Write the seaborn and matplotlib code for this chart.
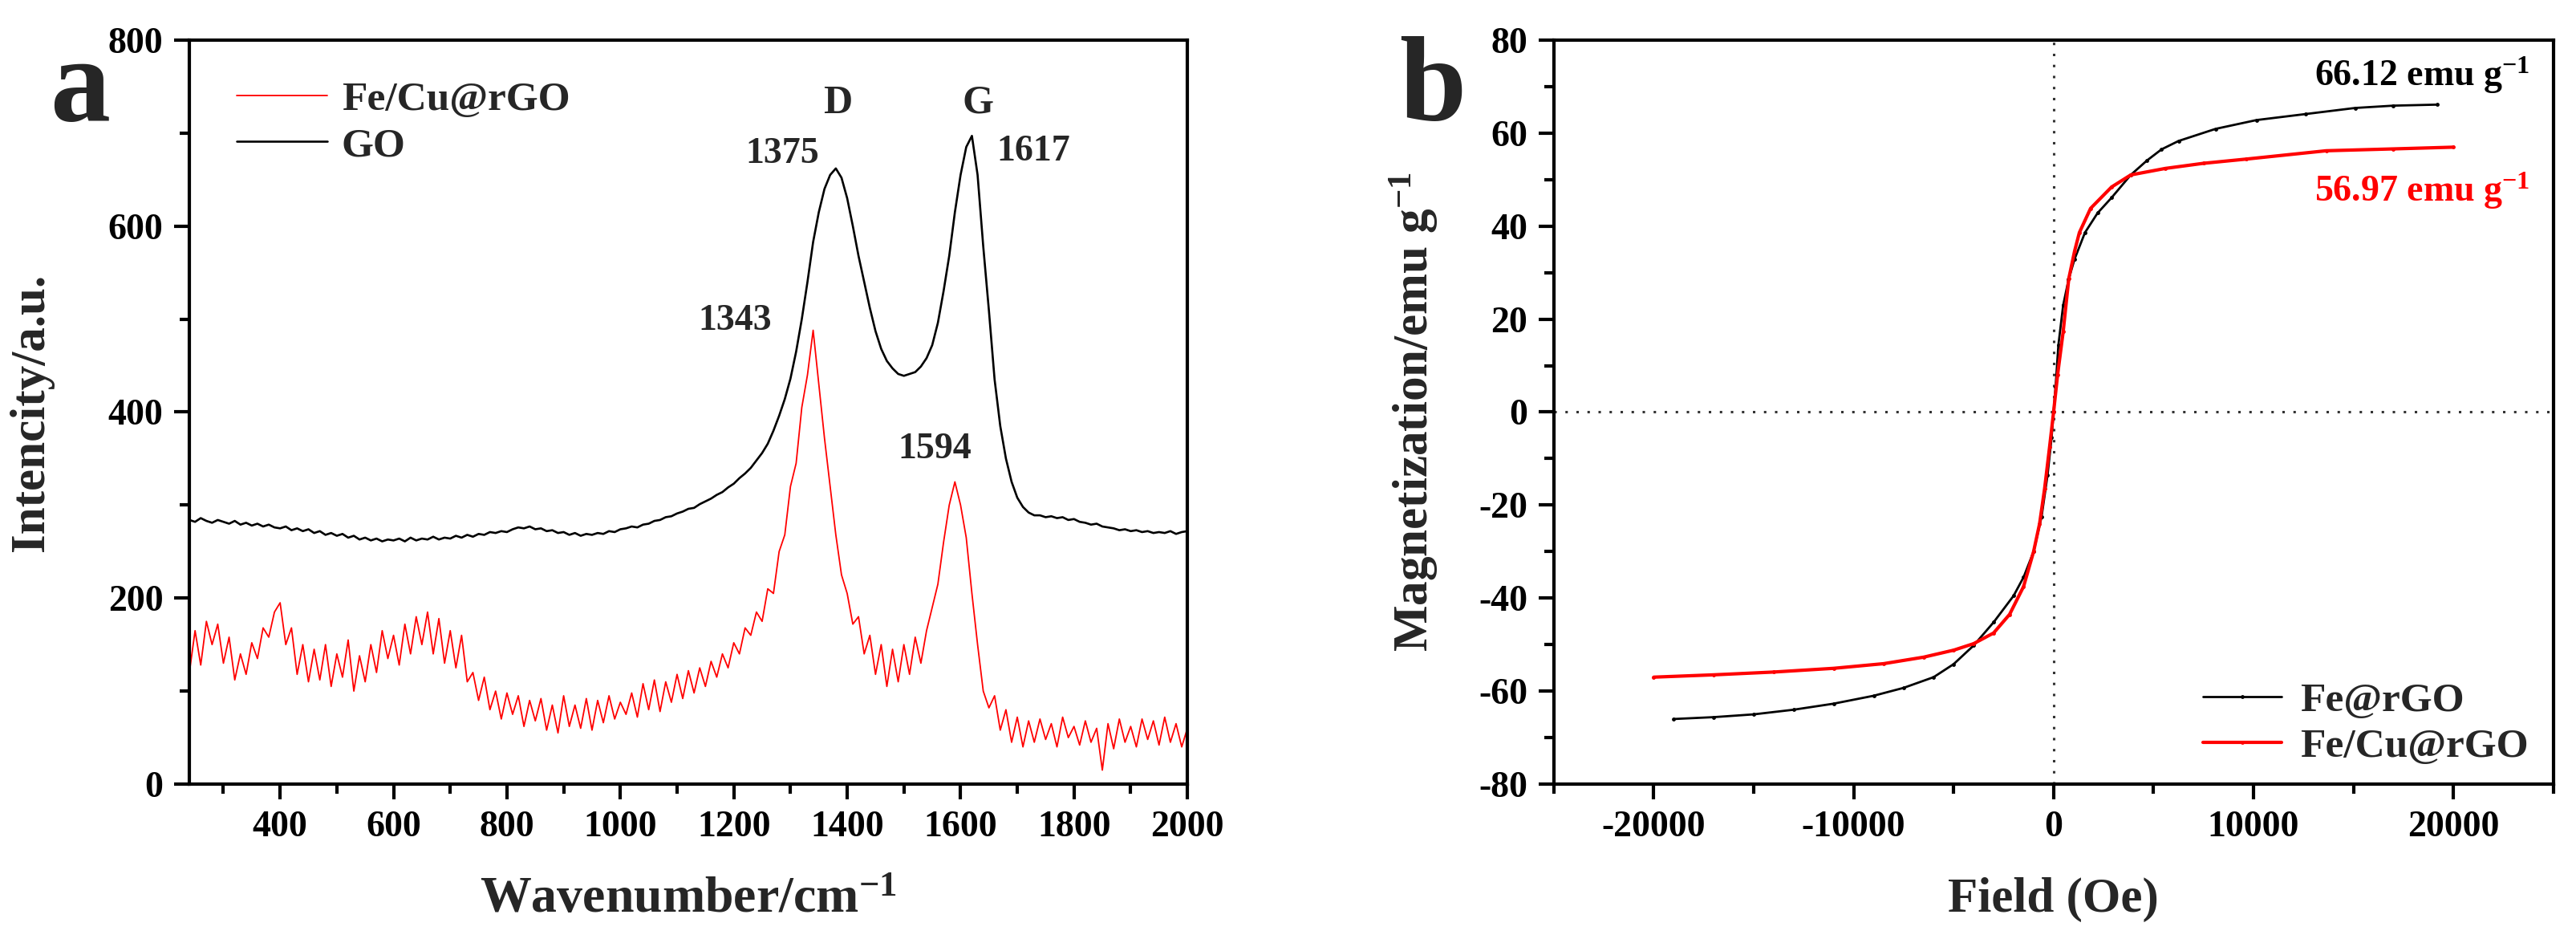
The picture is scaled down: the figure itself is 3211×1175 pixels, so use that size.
import numpy as np
import matplotlib
matplotlib.use('Agg')
import matplotlib.pyplot as plt
from matplotlib.ticker import MultipleLocator
import seaborn as sns

# ---- Raman data (panel a), every 10 cm-1 ----
wavenumber = np.arange(240, 2001, 10)

go_intensity = [
    284, 282, 286, 283, 281, 284, 282, 280, 283, 279,   # 240-330
    281, 278, 280, 277, 279, 276, 275, 277, 273, 275,   # 340-430
    272, 274, 270, 272, 268, 270, 267, 269, 265, 267,   # 440-530
    263, 265, 262, 264, 261, 263, 262, 264, 261, 265,   # 540-630
    262, 264, 263, 266, 263, 265, 264, 267, 265, 268,   # 640-730
    266, 269, 268, 271, 270, 272, 271, 274, 276, 275,   # 740-830
    277, 274, 275, 272, 273, 270, 271, 268, 270, 267,   # 840-930
    269, 268, 270, 269, 272, 271, 274, 275, 277, 276,   # 940-1030
    279, 280, 283, 284, 287, 288, 291, 293, 296, 297,   # 1040-1130
    301, 304, 307, 311, 314, 319, 323, 329, 334, 340,   # 1140-1230
    348, 356, 366, 380, 396, 414, 436, 465, 500, 540,   # 1240-1330
    583, 615, 640, 655, 662, 652, 630, 600, 568, 540,   # 1340-1430
    512, 487, 468, 455, 447, 441, 439, 441, 443, 449,   # 1440-1530
    458, 472, 496, 530, 568, 615, 655, 685, 697, 655,   # 1540-1630
    578, 509, 435, 385, 350, 325, 308, 298, 292, 289,   # 1640-1730
    289, 287, 288, 286, 287, 284, 285, 282, 281, 279,   # 1740-1830
    280, 277, 276, 275, 273, 274, 272, 273, 271, 272,   # 1840-1930
    270, 271, 270, 272, 269, 271, 272,                  # 1940-2000
]

fecu_intensity = [
    120, 165, 128, 175, 150, 172, 130, 158, 112, 140,   # 240-330
    118, 152, 135, 168, 158, 185, 195, 150, 168, 118,   # 340-430
    150, 110, 145, 112, 150, 105, 140, 115, 155, 100,   # 440-530
    138, 110, 150, 120, 165, 135, 160, 128, 172, 140,   # 540-630
    180, 150, 185, 140, 178, 130, 165, 125, 160, 110,   # 640-730
    120, 90, 115, 80, 100, 70, 98, 75, 95, 62,          # 740-830
    90, 68, 92, 58, 85, 55, 95, 62, 85, 60,             # 840-930
    92, 58, 90, 66, 95, 70, 88, 75, 98, 72,             # 940-1030
    108, 80, 112, 78, 110, 88, 118, 92, 122, 98,        # 1040-1130
    125, 105, 132, 115, 140, 125, 152, 140, 168, 160,   # 1140-1230
    185, 175, 210, 205, 250, 268, 320, 345, 405, 440,   # 1240-1330
    488, 430, 372, 320, 268, 225, 205, 172, 180, 140,   # 1340-1430
    160, 118, 150, 105, 145, 110, 150, 118, 158, 130,   # 1440-1530
    165, 190, 215, 260, 300, 325, 300, 265, 205, 150,   # 1540-1630
    100, 82, 95, 58, 80, 45, 72, 40, 68, 45,            # 1640-1730
    70, 48, 65, 40, 72, 50, 62, 42, 68, 45,             # 1740-1830
    60, 15, 65, 38, 70, 45, 62, 40, 70, 48,             # 1840-1930
    68, 42, 72, 45, 65, 40, 60,                         # 1940-2000
]

# ---- Magnetization data (panel b) ----
fe_field = [-19000, -17000, -15000, -13000, -11000, -9000, -7500, -6000, -5000,
            -4000, -3000, -2000, -1500, -1000, -600, -300, -100, 0, 100, 240,
            480, 750, 1050, 1570, 2200, 2900, 3860, 4670, 5400, 6250, 8100,
            10150, 12620, 15080, 17000, 19200]
fe_mag = [-66.0, -65.6, -65.0, -64.0, -62.7, -61.0, -59.3, -57.0, -54.2,
          -50.2, -45.2, -39.5, -35.5, -30.0, -22.5, -13.5, -5.5, 0.0, 5.5, 14.4,
          23.0, 28.5, 32.9, 38.6, 42.8, 46.1, 51.0, 54.1, 56.5, 58.3, 60.9,
          62.8, 64.1, 65.4, 65.9, 66.12]

fecu_field = [-20000, -17000, -14000, -11000, -8500, -6500, -5000, -4000, -3000,
              -2200, -1500, -1000, -700, -450, -200, 0, 200, 480, 760, 1050,
              1290, 1850, 2900, 3860, 5590, 7500, 9620, 13640, 17000, 20000]
fecu_mag = [-57.0, -56.5, -55.9, -55.1, -54.1, -52.7, -51.2, -49.8, -47.5,
            -43.5, -37.5, -30.0, -24.0, -16.5, -7.5, 0.0, 8.0, 17.3, 28.7, 34.6,
            38.6, 43.8, 48.4, 51.0, 52.4, 53.5, 54.4, 56.2, 56.6, 56.97]

sns.set_theme(style='ticks')
plt.rcParams.update({
    'font.family': ['Liberation Serif', 'DejaVu Serif'],
    'font.weight': 'bold',
    'axes.labelweight': 'bold',
    'axes.unicode_minus': False,
    'mathtext.fontset': 'custom',
    'mathtext.rm': 'Liberation Serif:bold',
    'mathtext.default': 'rm',
    'axes.linewidth': 3,
    'axes.edgecolor': 'black',
    'xtick.color': 'black',
    'ytick.color': 'black',
})

fig = plt.figure(figsize=(32.12, 11.75), dpi=100)
ax1 = fig.add_axes([0.0735, 0.1685, 0.3873, 0.789])
ax2 = fig.add_axes([0.603, 0.1685, 0.3879, 0.789])

# Panel a
sns.lineplot(x=wavenumber, y=fecu_intensity, ax=ax1, color='red', lw=1.3,
             estimator=None, sort=False, label='Fe/Cu@rGO')
sns.lineplot(x=wavenumber, y=go_intensity, ax=ax1, color='black', lw=1.9,
             estimator=None, sort=False, label='GO')
ax1.set_xlim(240, 2000)
ax1.set_ylim(0, 800)
ax1.xaxis.set_major_locator(MultipleLocator(200))
ax1.xaxis.set_minor_locator(MultipleLocator(100))
ax1.yaxis.set_major_locator(MultipleLocator(200))
ax1.yaxis.set_minor_locator(MultipleLocator(100))
ax1.set_xlabel('Wavenumber/cm$^{-1}$', fontsize=46)
ax1.set_ylabel('Intencity/a.u.', fontsize=44)
ax1.xaxis.set_label_coords(0.5, -0.125)
ax1.yaxis.set_label_coords(-0.136, 0.5)
ax1.legend(loc='upper left', bbox_to_anchor=(0.047, 0.945), frameon=False,
           fontsize=37, handlelength=2.2, handletextpad=0.35, labelspacing=0.2,
           borderaxespad=0, borderpad=0)

peak_text = [('D', 1383, 732, 36), ('G', 1630, 732, 36), ('1375', 1286, 677, 33),
             ('1617', 1729, 680, 33), ('1343', 1202, 498, 33), ('1594', 1555, 360, 33)]
for s, x, y, fs in peak_text:
    ax1.text(x, y, s, fontsize=fs, fontweight='bold', ha='center', va='center')

# Panel b
ax2.axhline(0, color='#333333', lw=2.2, ls=(0, (1, 3.5)), zorder=1)
ax2.axvline(0, color='#333333', lw=2.2, ls=(0, (1, 3.5)), zorder=1)
sns.lineplot(x=fe_field, y=fe_mag, ax=ax2, color='black', lw=2, marker='o',
             markersize=3.5, markeredgewidth=0, estimator=None, sort=False,
             label='Fe@rGO')
sns.lineplot(x=fecu_field, y=fecu_mag, ax=ax2, color='red', lw=3, marker='o',
             markersize=3.5, markeredgewidth=0,
             estimator=None, sort=False, label='Fe/Cu@rGO')
ax2.set_xlim(-25000, 25000)
ax2.set_ylim(-80, 80)
ax2.xaxis.set_major_locator(MultipleLocator(10000))
ax2.xaxis.set_minor_locator(MultipleLocator(5000))
ax2.yaxis.set_major_locator(MultipleLocator(20))
ax2.yaxis.set_minor_locator(MultipleLocator(10))
ax2.set_xlabel('Field (Oe)', fontsize=44)
ax2.set_ylabel('Magnetization/emu g$^{-1}$', fontsize=44)
ax2.xaxis.set_label_coords(0.5, -0.125)
ax2.yaxis.set_label_coords(-0.114, 0.5)
ax2.legend(loc='lower right', bbox_to_anchor=(0.975, 0.025), frameon=False,
           fontsize=37, handlelength=1.9, handletextpad=0.45, labelspacing=0.2,
           borderaxespad=0, borderpad=0)
ax2.text(18450, 72.5, '66.12 emu g$^{-1}$', fontsize=33, color='black',
         ha='center', va='center')
ax2.text(18450, 47.6, '56.97 emu g$^{-1}$', fontsize=33, color='red',
         ha='center', va='center')

for ax in (ax1, ax2):
    for sp in ax.spines.values():
        sp.set_visible(True)
        sp.set_linewidth(3)
    ax.tick_params(which='major', direction='out', length=13.5, width=3,
                   labelsize=33, pad=10, top=False, right=False)
    ax.tick_params(which='minor', direction='out', length=8.5, width=3,
                   top=False, right=False)
    for lab in ax.get_xticklabels() + ax.get_yticklabels():
        lab.set_fontweight('bold')

fig.text(0.0193, 0.872, 'a', fontsize=108, fontweight='bold', va='baseline')
fig.text(0.543, 0.872, 'b', fontsize=108, fontweight='bold', va='baseline')

fig.savefig('out.png', dpi=100, facecolor='white')
